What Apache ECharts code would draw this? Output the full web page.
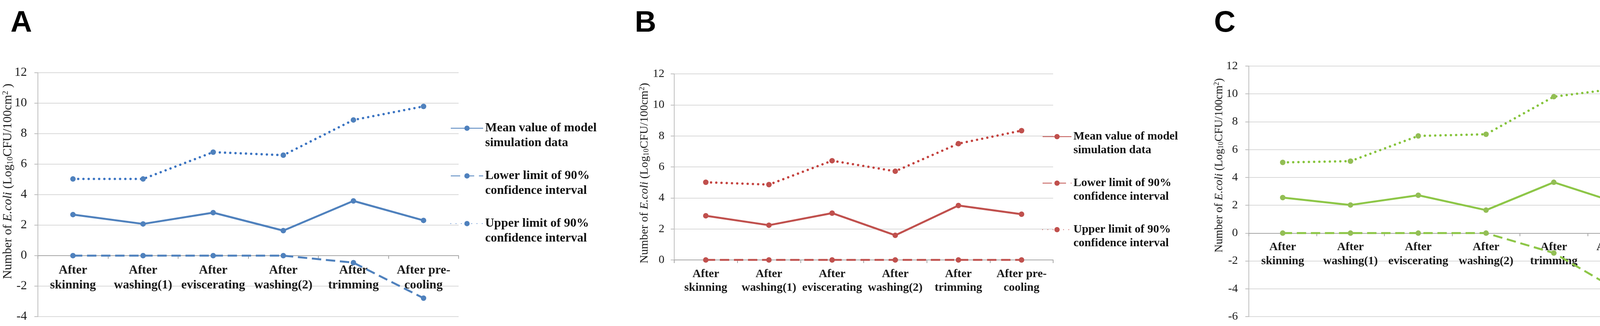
<!DOCTYPE html>
<html>
<head>
<meta charset="utf-8">
<script src="https://cdn.jsdelivr.net/npm/echarts@6/dist/echarts.min.js"></script>
<style>
html,body{margin:0;padding:0;background:#fff;}
#chart{width:4562px;height:834px;}
</style>
</head>
<body>
<div id="chart"></div>
<script>
// ---- data ----
const categories = ['After\nskinning', 'After\nwashing(1)', 'After\neviscerating', 'After\nwashing(2)', 'After\ntrimming', 'After pre-\ncooling'];
const seriesLabels = ['Mean value of model\nsimulation data', 'Lower limit of 90%\nconfidence interval', 'Upper limit of 90%\nconfidence interval'];
const panelLetters = ['A', 'B', 'C'];

const meanA  = [2.69, 2.08, 2.82, 1.64, 3.59, 2.31];
const lowerA = [0, 0, 0, 0, -0.46, -2.79];
const upperA = [5.03, 5.03, 6.79, 6.59, 8.90, 9.79];

const meanB  = [2.85, 2.24, 3.02, 1.59, 3.51, 2.95];
const lowerB = [0, 0, 0, 0, 0, 0];
const upperB = [5.01, 4.86, 6.40, 5.72, 7.50, 8.34];

const meanC  = [2.55, 2.02, 2.72, 1.65, 3.65, 2.08];
const lowerC = [0, 0, 0, 0, -1.43, -4.27];
const upperC = [5.08, 5.17, 6.98, 7.10, 9.80, 10.42];

const yTicksA = {min: -4, max: 12, interval: 2};
const yTicksB = {min: 0, max: 12, interval: 2};
const yTicksC = {min: -6, max: 12, interval: 2};

// ---- layout/style ----
const SERIF = "'Liberation Serif','Times New Roman',serif";
const SANS = "'Liberation Sans',Arial,sans-serif";

const panels = [
  { data: [meanA, lowerA, upperA], ticks: yTicksA,
    color: '#4F81BD', dotColor: '#3B74C2', markColor: '#4F81BD',
    grid: {left: 97, top: 186, width: 1077, height: 624},
    fs: 32, labLH: 38, labMargin: 19, yMargin: 28,
    legend: {left: 1153, top: 271, itemWidth: 83, LH: 38, gap: 8, fs: 32},
    letter: {x: 27, y: 60},
    yname: {x: 21, y: 464, fs: 32, text: ' )'} },
  { data: [meanB, lowerB, upperB], ticks: yTicksB,
    color: '#C0504D', dotColor: '#C4433F', markColor: '#C0504D',
    grid: {left: 1726, top: 189, width: 970, height: 476},
    fs: 30, labLH: 35, labMargin: 19, yMargin: 25,
    legend: {left: 2668, top: 297, itemWidth: 74, LH: 35, gap: 14, fs: 30},
    letter: {x: 1625, y: 60},
    yname: {x: 1650, y: 443, fs: 30, text: ')'} },
  { data: [meanC, lowerC, upperC], ticks: yTicksC,
    color: '#8DC647', dotColor: '#86C43C', markColor: '#93BE55',
    grid: {left: 3197, top: 169, width: 1041, height: 641},
    fs: 30, labLH: 36, labMargin: 18, yMargin: 28,
    legend: {left: 4199, top: 261, itemWidth: 74, LH: 36, gap: 2, fs: 30},
    letter: {x: 3108, y: 60},
    yname: {x: 3121, y: 423, fs: 29, text: ')'} }
];

const lineTypes = ['solid', [24, 12], [0.1, 13.3]];

const option = {
  animation: false,
  backgroundColor: '#ffffff',
  grid: [], xAxis: [], yAxis: [], series: [], legend: [], graphic: []
};

const labelMap = {};

panels.forEach((p, i) => {
  option.grid.push(Object.assign({containLabel: false, outerBoundsMode: 'none'}, p.grid));
  // distance from grid bottom up to the zero line (labels sit just under the zero line)
  const zeroLift = p.grid.height * (0 - p.ticks.min) / (p.ticks.max - p.ticks.min);
  option.xAxis.push({
    type: 'category', gridIndex: i, data: categories, boundaryGap: true,
    axisLine: {show: true, onZero: true, lineStyle: {color: '#A6A6A6', width: 2}},
    axisTick: {show: true, length: 8, lineStyle: {color: '#A6A6A6', width: 2}},
    axisLabel: {fontFamily: SERIF, fontWeight: 'bold', fontSize: p.fs, lineHeight: p.labLH,
      color: '#1a1a1a', margin: p.labMargin - zeroLift, interval: 0, hideOverlap: false},
    splitLine: {show: false}
  });
  option.yAxis.push({
    type: 'value', gridIndex: i, min: p.ticks.min, max: p.ticks.max, interval: p.ticks.interval,
    axisLine: {show: true, lineStyle: {color: '#BFBFBF', width: 2}},
    axisTick: {show: true, length: 9, lineStyle: {color: '#BFBFBF', width: 2}},
    axisLabel: {fontFamily: SERIF, fontSize: p.fs, color: '#1a1a1a', margin: p.yMargin},
    splitLine: {show: true, lineStyle: {color: '#D9D9D9', width: 2}}
  });
  const names = [];
  p.data.forEach((arr, k) => {
    const nm = panelLetters[i] + '_' + k;
    names.push(nm);
    labelMap[nm] = seriesLabels[k];
    option.series.push({
      name: nm, type: 'line', xAxisIndex: i, yAxisIndex: i, data: arr,
      symbol: 'circle', symbolSize: 14, showSymbol: true,
      lineStyle: {color: k === 2 ? p.dotColor : p.color, width: k === 2 ? 6 : 5, type: lineTypes[k], cap: k === 2 ? 'round' : 'butt'},
      itemStyle: {color: p.markColor},
      z: k === 0 ? 3 : 2
    });
  });
  option.legend.push({
    orient: 'vertical', left: p.legend.left, top: p.legend.top,
    itemWidth: p.legend.itemWidth, itemHeight: 17, itemGap: p.legend.gap,
    data: names, selectedMode: false, padding: 0,
    formatter: (n) => '\n' + labelMap[n],
    textStyle: {fontFamily: SERIF, fontWeight: 'bold', fontSize: p.legend.fs, lineHeight: p.legend.LH,
      color: '#111'}
  });
  option.graphic.push({
    type: 'text', x: p.letter.x, y: p.letter.y,
    style: {text: panelLetters[i], fontFamily: SANS, fontWeight: 'bold', fontSize: 76, fill: '#000',
      align: 'left', verticalAlign: 'middle'}
  });
  const f = p.yname.fs;
  option.graphic.push({
    type: 'text', x: p.yname.x, y: p.yname.y, rotation: Math.PI / 2,
    style: {
      text: 'Number of {i|E.coli} (Log{sub|10}CFU/100cm{sup|2}' + p.yname.text,
      fontFamily: SERIF, fontSize: f, fill: '#1a1a1a', align: 'center', verticalAlign: 'middle',
      lineHeight: f,
      rich: {
        i: {fontFamily: SERIF, fontStyle: 'italic', fontSize: f, fill: '#1a1a1a', lineHeight: f},
        sub: {fontFamily: SERIF, fontSize: Math.round(f * 0.62), fill: '#1a1a1a', lineHeight: Math.round(f * 0.62), verticalAlign: 'bottom'},
        sup: {fontFamily: SERIF, fontSize: Math.round(f * 0.62), fill: '#1a1a1a', lineHeight: Math.round(f * 0.62), verticalAlign: 'top'}
      }
    }
  });
});

const chart = echarts.init(document.getElementById('chart'), null, {renderer: 'canvas'});
chart.setOption(option);
</script>
</body>
</html>
